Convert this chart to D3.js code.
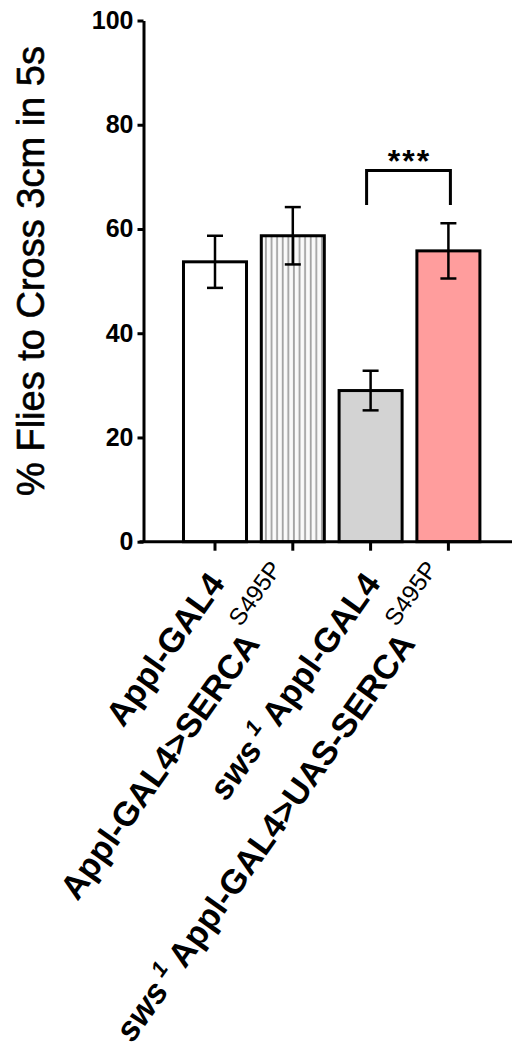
<!DOCTYPE html>
<html>
<head>
<meta charset="utf-8">
<script src="https://cdn.jsdelivr.net/npm/d3@7"></script>
<style>
  body { margin: 0; background: #fff; }
  svg { display: block; font-family: "Liberation Sans", Arial, sans-serif; }
</style>
</head>
<body>
<svg id="chart"></svg>
<script>
// values (mean +/- SEM, percent)
const categories = ["appl", "applSerca", "sws", "swsSerca"];
const means = [53.7, 58.7, 29.0, 55.8];
const sems = [5.0, 5.5, 3.8, 5.3];
const yTicks = [0, 20, 40, 60, 80, 100];
const yTitle = "% Flies to Cross 3cm in 5s";
// label pieces: plain, italic, superscript
const labelParts = [
  [{ t: "Appl-GAL4" }],
  [{ t: "Appl-GAL4>SERCA" }, { t: "S495P", sup: true }],
  [{ t: "sws", it: true }, { t: "1", sup: true, it: true, bold: true }, { t: " Appl-GAL4" }],
  [{ t: "sws", it: true }, { t: "1", sup: true, it: true, bold: true }, { t: " Appl-GAL4>UAS-SERCA" }, { t: "S495P", sup: true }]
];
const sigPair = [2, 3];
const sigTop = 71.2, sigDrop = 64.6;
const sigText = "***";

const W = 512, H = 1057;
const fills = ["#ffffff", "url(#stripes)", "#d3d3d3", "#ff9d9d"];

const svg = d3.select("#chart").attr("width", W).attr("height", H);
svg.append("rect").attr("width", W).attr("height", H).attr("fill", "#fff");

const defs = svg.append("defs");
const pat = defs.append("pattern")
  .attr("id", "stripes")
  .attr("patternUnits", "userSpaceOnUse")
  .attr("width", 5.6).attr("height", 10);
pat.append("rect").attr("width", 5.6).attr("height", 10).attr("fill", "#fafafa");
pat.append("rect").attr("x", 1.8).attr("width", 1.8).attr("height", 10).attr("fill", "#a2a2a2");

const y = d3.scaleLinear().domain([0, 100]).range([541.7, 20.5]);
const x = d3.scaleBand().domain(categories)
  .range([176.1, 487.3]).paddingInner(0.19).paddingOuter(0.095);
const cx = (c) => x(c) + x.bandwidth() / 2;
const axisX = 143.5;

// bars
svg.selectAll(".bar").data(categories).enter().append("rect")
  .attr("class", "bar")
  .attr("x", (c) => x(c))
  .attr("y", (c, i) => y(means[i]))
  .attr("width", x.bandwidth())
  .attr("height", (c, i) => y(0) - y(means[i]))
  .attr("fill", (c, i) => fills[i])
  .attr("stroke", "#000")
  .attr("stroke-width", 3);

// error bars
const err = svg.selectAll(".err").data(categories).enter().append("g").attr("class", "err")
  .attr("stroke", "#000").attr("stroke-width", 2.5);
err.append("line")
  .attr("x1", cx).attr("x2", cx)
  .attr("y1", (c, i) => y(means[i] + sems[i]))
  .attr("y2", (c, i) => y(means[i] - sems[i]));
err.append("line")
  .attr("x1", (c) => cx(c) - 8).attr("x2", (c) => cx(c) + 8)
  .attr("y1", (c, i) => y(means[i] + sems[i]))
  .attr("y2", (c, i) => y(means[i] + sems[i]));
err.append("line")
  .attr("x1", (c) => cx(c) - 8).attr("x2", (c) => cx(c) + 8)
  .attr("y1", (c, i) => y(means[i] - sems[i]))
  .attr("y2", (c, i) => y(means[i] - sems[i]));

// y axis
const yAxis = svg.append("g")
  .attr("transform", "translate(" + axisX + ",0)")
  .call(d3.axisLeft(y).tickValues(yTicks).tickSize(6).tickSizeOuter(0).tickPadding(4));
yAxis.select(".domain").attr("stroke-width", 3);
yAxis.selectAll(".tick line").attr("stroke-width", 3);
yAxis.selectAll(".tick text")
  .attr("font-family", "Liberation Sans, Arial, sans-serif")
  .attr("font-size", 25).attr("font-weight", "bold").attr("fill", "#000");

// x axis (line drawn past the bars, ticks at bar centres)
svg.append("line")
  .attr("x1", axisX - 4).attr("x2", W)
  .attr("y1", y(0)).attr("y2", y(0))
  .attr("stroke", "#000").attr("stroke-width", 3);
const xAxis = svg.append("g")
  .attr("transform", "translate(0," + y(0) + ")")
  .call(d3.axisBottom(x).tickSize(9).tickFormat(""));
xAxis.select(".domain").remove();
xAxis.selectAll(".tick line").attr("stroke-width", 3);

// y title
svg.append("text")
  .attr("transform", "translate(43.5,271) rotate(-90)")
  .attr("text-anchor", "middle")
  .attr("font-size", 38)
  .attr("fill", "#000")
  .attr("stroke", "#000").attr("stroke-width", 0.6)
  .text(yTitle);

// x labels, slanted
categories.forEach((c, i) => {
  const t = svg.append("text")
    .attr("transform", "translate(" + (cx(c) + 11) + "," + (y(0) + 42) + ") rotate(-54.6)")
    .attr("text-anchor", "end")
    .attr("font-size", 34)
    .attr("font-weight", "bold")
    .attr("fill", "#000");
  let lift = 0;
  labelParts[i].forEach((p) => {
    const s = t.append("tspan").text(p.t);
    if (p.it) s.attr("font-style", "italic");
    if (p.sup) {
      lift = p.bold ? 14 : 26;
      s.attr("font-size", p.bold ? 22 : 24).attr("dy", -lift).attr("dx", p.bold ? 6 : 2)
        .attr("font-weight", p.bold ? "bold" : "normal");
    } else if (lift) {
      s.attr("dy", lift);
      lift = 0;
    }
  });
});

// significance bracket
const bx1 = cx(categories[sigPair[0]]) - 4, bx2 = cx(categories[sigPair[1]]) + 2;
svg.append("path")
  .attr("d", "M" + bx1 + "," + y(sigDrop) + "V" + y(sigTop) + "H" + bx2 + "V" + y(sigDrop))
  .attr("fill", "none").attr("stroke", "#000").attr("stroke-width", 3);
svg.append("text")
  .attr("x", (bx1 + bx2) / 2 + 1).attr("y", y(sigTop) + 1)
  .attr("text-anchor", "middle")
  .attr("font-size", 32).attr("font-weight", "bold")
  .attr("letter-spacing", 2)
  .attr("fill", "#000")
  .text(sigText);
</script>
</body>
</html>
